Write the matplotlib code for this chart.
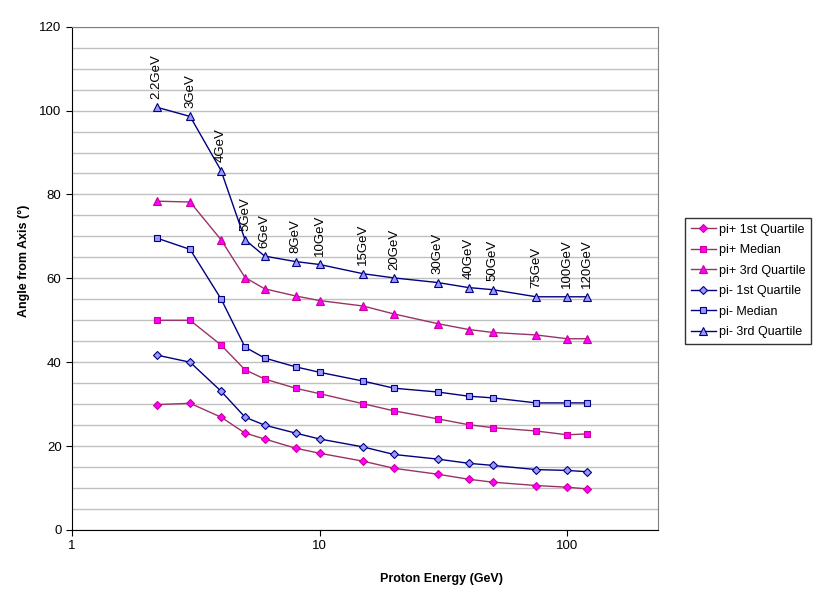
import numpy as np
import matplotlib.pyplot as plt

plt.rcParams['font.family'] = ['Liberation Sans', 'DejaVu Sans']

energy = [2.2, 3, 4, 5, 6, 8, 10, 15, 20, 30, 40, 50, 75, 100, 120]
energy_labels = ['2.2GeV', '3GeV', '4GeV', '5GeV', '6GeV', '8GeV', '10GeV', '15GeV',
                 '20GeV', '30GeV', '40GeV', '50GeV', '75GeV', '100GeV', '120GeV']

pip_q1 = [29.9, 30.2, 26.9, 23.1, 21.7, 19.5, 18.3, 16.4, 14.7, 13.3, 12.1, 11.4, 10.6, 10.2, 9.8]
pip_med = [50.0, 50.0, 44.1, 38.2, 36.0, 33.8, 32.5, 30.1, 28.4, 26.5, 25.1, 24.4, 23.6, 22.7, 22.9]
pip_q3 = [78.4, 78.2, 69.2, 60.2, 57.5, 55.8, 54.7, 53.4, 51.5, 49.2, 47.8, 47.1, 46.5, 45.6, 45.6]
pim_q1 = [41.7, 40.0, 33.1, 26.9, 25.0, 23.1, 21.7, 19.8, 18.0, 16.9, 15.9, 15.4, 14.4, 14.2, 13.9]
pim_med = [69.6, 66.9, 55.1, 43.6, 41.0, 38.9, 37.6, 35.5, 33.8, 32.9, 31.9, 31.5, 30.3, 30.3, 30.3]
pim_q3 = [100.8, 98.6, 85.7, 69.2, 65.3, 64.0, 63.3, 61.1, 60.1, 59.0, 57.8, 57.3, 55.6, 55.6, 55.6]

fig = plt.figure(figsize=(8.22, 6), dpi=100)
ax = fig.add_axes([0.0876, 0.1167, 0.7129, 0.8388])

plus_line = '#993366'
plus_face = '#FF00FF'
minus_line = '#000080'
minus_face = '#9999FF'

series = [
    (pip_q1, 'pi+ 1st Quartile', 'D', plus_line, plus_face, 4.5),
    (pip_med, 'pi+ Median', 's', plus_line, plus_face, 5),
    (pip_q3, 'pi+ 3rd Quartile', '^', plus_line, plus_face, 5.5),
    (pim_q1, 'pi- 1st Quartile', 'D', minus_line, minus_face, 4.5),
    (pim_med, 'pi- Median', 's', minus_line, minus_face, 5),
    (pim_q3, 'pi- 3rd Quartile', '^', minus_line, minus_face, 5.5),
]
for vals, name, mk, lc, fc, ms in series:
    ax.plot(energy, vals, color=lc, lw=1, marker=mk, markersize=ms,
            markerfacecolor=fc, markeredgecolor=lc if fc == minus_face else '#CC0099',
            markeredgewidth=0.8, label=name, zorder=3)

# energy labels above the pi- 3rd quartile points
for e, v, t in zip(energy, pim_q3, energy_labels):
    ax.annotate(t, (e, v), xytext=(0, 6), textcoords='offset points',
                rotation=90, ha='center', va='bottom', fontsize=9.5)

ax.set_xscale('log')
ax.set_xlim(1, 233)
ax.set_ylim(0, 120)
ax.set_yticks(np.arange(0, 121, 20))
ax.set_yticks(np.arange(0, 121, 5), minor=True)
ax.set_xticks([1, 10, 100])
ax.set_xticklabels(['1', '10', '100'])
ax.xaxis.set_minor_locator(plt.NullLocator())
ax.grid(True, which='both', axis='y', color='#C0C0C0', lw=1)
ax.set_axisbelow(True)
ax.tick_params(axis='y', which='minor', length=0)
ax.tick_params(axis='both', which='major', length=4, direction='out', labelsize=9.5, color='black')

ax.spines['left'].set_color('black')
ax.spines['bottom'].set_color('black')
ax.spines['top'].set_color('#808080')
ax.spines['right'].set_color('#808080')

ax.set_xlabel('Proton Energy (GeV)', fontsize=9, fontweight='bold')
ax.xaxis.set_label_coords(0.631, -0.085)
ax.set_ylabel('Angle from Axis (°)', fontsize=9, fontweight='bold')
ax.yaxis.set_label_coords(-0.0717, 0.534)

leg = ax.legend(loc='center left', bbox_to_anchor=(1.046, 0.495), borderaxespad=0,
                fontsize=9, frameon=True, fancybox=False, edgecolor='black',
                handlelength=2.0, borderpad=0.45, labelspacing=0.68, handletextpad=0.3)
leg.get_frame().set_linewidth(1)

fig.savefig('out.png', dpi=100)
